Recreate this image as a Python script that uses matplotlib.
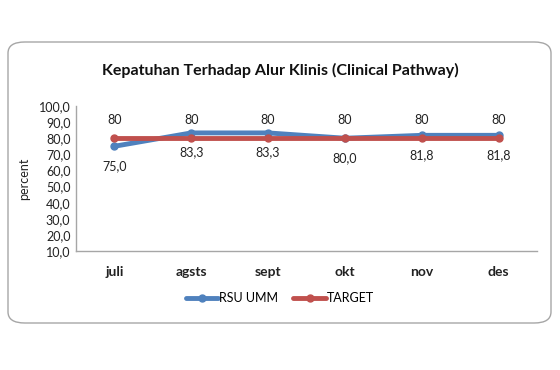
import matplotlib
matplotlib.use("Agg")
import matplotlib.pyplot as plt
from matplotlib.patches import FancyBboxPatch

months = ["juli", "agsts", "sept", "okt", "nov", "des"]
rsu_umm = [75.0, 83.3, 83.3, 80.0, 81.8, 81.8]
target = [80, 80, 80, 80, 80, 80]
y_ticks = [10, 20, 30, 40, 50, 60, 70, 80, 90, 100]

plt.rcParams["font.family"] = ["Lato", "DejaVu Sans"]

blue = "#4F81BD"
red = "#C0504D"

fig = plt.figure(figsize=(5.6, 3.7), dpi=100)
fig.patch.set_facecolor("white")

# rounded chart border
border = FancyBboxPatch((8 / 560, 1 - 323 / 370), 543 / 560, 281 / 370,
                        boxstyle="round,pad=0,rounding_size=0.03",
                        transform=fig.transFigure, facecolor="white",
                        edgecolor="#A6A6A6", linewidth=1.0, zorder=-1)
fig.patches.append(border)

ax = fig.add_axes([76 / 560, 1 - 251 / 370, 461 / 560, 145 / 370])
ax.set_zorder(2)
ax.set_facecolor("none")

x = list(range(len(months)))
ax.plot(x, rsu_umm, color=blue, lw=3.5, marker="o", ms=5, label="RSU UMM",
        solid_capstyle="round", zorder=3)
ax.plot(x, target, color=red, lw=3.5, marker="o", ms=5, label="TARGET",
        solid_capstyle="round", zorder=4)

for xi, v in zip(x, rsu_umm):
    ax.annotate(f"{v:.1f}".replace(".", ","), (xi, v), xytext=(0, -14),
                textcoords="offset points", ha="center", va="center",
                fontsize=9, color="#222222")
for xi, v in zip(x, target):
    ax.annotate(f"{v}", (xi, v), xytext=(0, 13), textcoords="offset points",
                ha="center", va="center", fontsize=9, color="#222222")

ax.set_xlim(-0.5, len(months) - 0.5)
ax.set_ylim(10, 100)
ax.set_yticks(y_ticks)
ax.set_yticklabels([f"{t:.1f}".replace(".", ",") for t in y_ticks],
                   fontsize=9, color="#222222")
ax.set_xticks(x)
ax.set_xticklabels(months, fontsize=10, fontweight="bold", color="#222222")
ax.tick_params(axis="x", length=0, pad=11)
ax.tick_params(axis="y", length=0, pad=4)
for s in ["top", "right"]:
    ax.spines[s].set_visible(False)
for s in ["left", "bottom"]:
    ax.spines[s].set_color("#A6A6A6")
    ax.spines[s].set_linewidth(1.0)

ax.set_ylabel("percent", fontsize=9, color="#222222", labelpad=6)

fig.text(0.5, 1 - 70 / 370, "Kepatuhan Terhadap Alur Klinis (Clinical Pathway)",
         ha="center", va="center", fontsize=11.5, fontweight="bold",
         color="#111111")

fig.legend(loc="center", bbox_to_anchor=(0.5, 1 - 298 / 370), ncol=2,
           frameon=False, fontsize=9, handlelength=2.6, handletextpad=0.1,
           columnspacing=1.2)

fig.savefig("out.png", dpi=100, facecolor="white")
